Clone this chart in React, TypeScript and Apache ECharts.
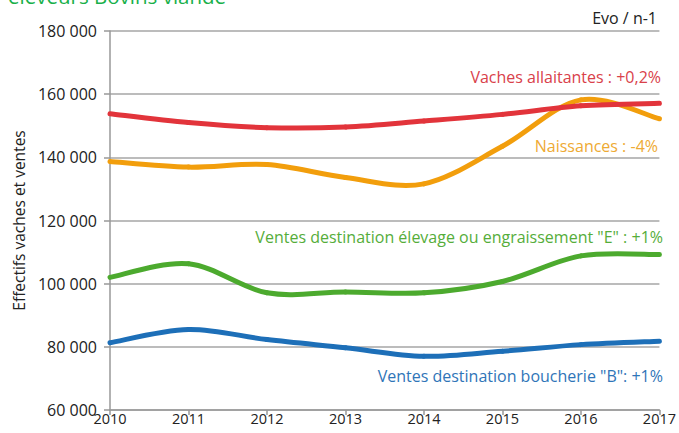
import React, { useEffect, useRef } from "react";
import * as echarts from "echarts";

const years = [2010, 2011, 2012, 2013, 2014, 2015, 2016, 2017];
const vachesAllaitantes = [153800, 151000, 149400, 149600, 151500, 153600, 156300, 157100];
const naissances = [138700, 136900, 137700, 133600, 131600, 143500, 158200, 152200];
const ventesElevage = [102000, 106300, 97100, 97400, 97100, 100700, 108800, 109200];
const ventesBoucherie = [81300, 85500, 82300, 79700, 77000, 78600, 80700, 81800];

const seriesNames = [
  "Vaches allaitantes : +0,2%",
  "Naissances : -4%",
  "Ventes destination élevage ou engraissement \"E\" : +1%",
  "Ventes destination boucherie \"B\": +1%",
];
const seriesColors = ["#e2343b", "#f29e0c", "#4caa2e", "#1d6fb8"];
const labelColors = ["#d9414a", "#eeaa33", "#55ad3a", "#2f75b8"];

const FONT = "'Open Sans', 'Noto Sans', sans-serif";

function smoothSeries(values: number[], color: string, name: string, z: number) {
  const data = years.map((y, j) => [y, values[j]]);
  const n = data.length;
  return {
    name,
    type: "custom",
    z,
    encode: { x: 0, y: 1 },
    data,
    renderItem: (params: any, api: any) => {
      const j = params.dataIndex;
      if (j >= n - 1) return { type: "group", children: [] };
      const p0 = api.coord(data[Math.max(0, j - 1)]);
      const p1 = api.coord(data[j]);
      const p2 = api.coord(data[j + 1]);
      const p3 = api.coord(data[Math.min(n - 1, j + 2)]);
      const t = 1 / 6;
      return {
        type: "bezierCurve",
        shape: {
          x1: p1[0],
          y1: p1[1],
          x2: p2[0],
          y2: p2[1],
          cpx1: p1[0] + (p2[0] - p0[0]) * t,
          cpy1: p1[1] + (p2[1] - p0[1]) * t,
          cpx2: p2[0] - (p3[0] - p1[0]) * t,
          cpy2: p2[1] - (p3[1] - p1[1]) * t,
        },
        style: { stroke: color, lineWidth: 5, fill: "none", lineCap: "round" },
      };
    },
  };
}

export default function App() {
  const ref = useRef<HTMLDivElement>(null);
  useEffect(() => {
    if (!ref.current) return;
    const chart = echarts.init(ref.current, null, { renderer: "svg" });
    const all = [vachesAllaitantes, naissances, ventesElevage, ventesBoucherie];
    chart.setOption({
      animation: false,
      backgroundColor: "#ffffff",
      grid: { left: 110, right: 18, top: 31, bottom: 23 },
      xAxis: {
        type: "value",
        min: 2010,
        max: 2017,
        interval: 1,
        axisLine: { show: true, lineStyle: { color: "#999", width: 1.5 } },
        axisTick: { show: true, length: 5, lineStyle: { color: "#999", width: 1.5 } },
        axisLabel: {
          color: "#222",
          fontFamily: FONT,
          fontSize: 14.5,
          margin: 1,
          formatter: (v: number) => String(v),
        },
        splitLine: { show: false },
      },
      yAxis: {
        type: "value",
        min: 60000,
        max: 180000,
        interval: 20000,
        name: "Effectifs vaches et ventes",
        nameLocation: "middle",
        nameGap: 80,
        nameTextStyle: { color: "#222", fontFamily: FONT, fontSize: 15.5 },
        axisLine: { show: true, lineStyle: { color: "#999", width: 1.5 } },
        axisTick: { show: true, length: 6, lineStyle: { color: "#999", width: 1.5 } },
        axisLabel: {
          color: "#222",
          fontFamily: FONT,
          fontSize: 16,
          margin: 13,
          formatter: (v: number) => String(v).replace(/\B(?=(\d{3})+(?!\d))/g, " "),
        },
        splitLine: { show: true, lineStyle: { color: "#a6a6a6", width: 1.5 } },
      },
      series: all.map((d, i) => smoothSeries(d, seriesColors[i], seriesNames[i], 10 - i)),
      graphic: [
        {
          type: "text",
          left: 8,
          top: -15,
          style: { text: "éleveurs Bovins viande", fill: "#19b04a", font: `20.5px ${FONT}` },
        },
        {
          type: "text",
          right: 22,
          top: 10,
          style: { text: "Evo / n-1", fill: "#222", font: `16px ${FONT}` },
        },
        {
          type: "text",
          right: 18,
          top: 69,
          style: { text: seriesNames[0], fill: labelColors[0], font: `16px ${FONT}` },
        },
        {
          type: "text",
          right: 21,
          top: 138,
          style: { text: seriesNames[1], fill: labelColors[1], font: `16px ${FONT}` },
        },
        {
          type: "text",
          right: 16,
          top: 229,
          style: { text: seriesNames[2], fill: labelColors[2], font: `16px ${FONT}` },
        },
        {
          type: "text",
          right: 16,
          top: 368,
          style: { text: seriesNames[3], fill: labelColors[3], font: `16px ${FONT}` },
        },
      ],
    });
    return () => chart.dispose();
  }, []);
  return <div ref={ref} style={{ width: 679, height: 433, position: "absolute", left: 0, top: 0 }} />;
}
